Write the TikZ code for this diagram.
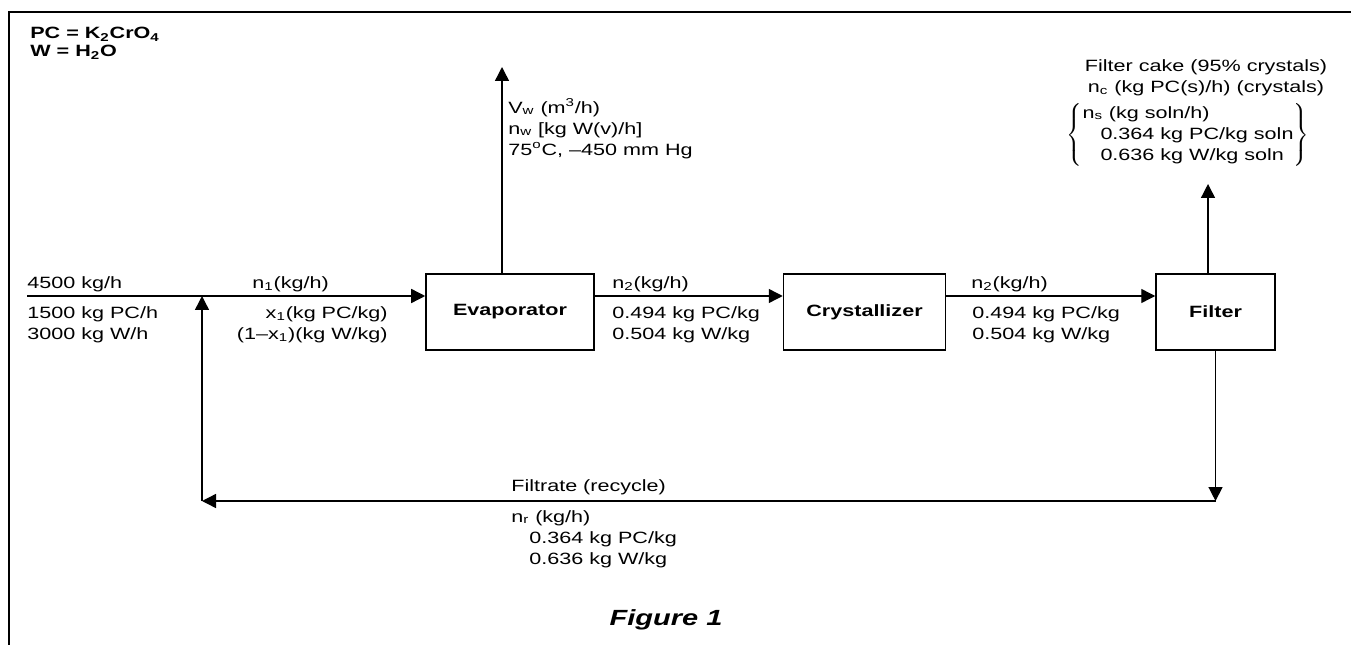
\documentclass[tikz,border=0pt]{standalone}
\usepackage{fontspec}
\setmainfont[FakeStretch=1.32]{Liberation Sans}
\usetikzlibrary{positioning,arrows.meta}

\begin{document}
\begin{tikzpicture}[
    x=0.02cm, y=-0.02cm,
    font=\fontsize{9.3}{12}\selectfont,
    unit/.style={rectangle, draw, line width=0.9pt, minimum height=1.52cm, font=\fontsize{9.3}{12}\selectfont\bfseries},
    flow/.style={-{Triangle[length=0.28cm, width=0.28cm]}, line width=0.8pt},
    lbl/.style={inner sep=0pt, align=left}
]
\useasboundingbox (0,0) rectangle (1351,645);

% Frame
\draw[line width=1.1pt] (1351,12) -| (9,645);

% Key
\node[lbl, anchor=north west, font=\fontsize{9.3}{10.3}\selectfont\bfseries] (key) at (30,27) {PC = K\textsubscript{2}CrO\textsubscript{4}\\W = H\textsubscript{2}O};

% Units
\node[unit, minimum width=3.36cm] (evap) at (510,312) {Evaporator};
\node[unit, minimum width=3.24cm, right=3.76cm of evap] (cryst) {Crystallizer};
\node[unit, minimum width=2.38cm, right=4.18cm of cryst] (filter) {Filter};

% Stream points
\coordinate (feed) at (27,296);
\coordinate (mix) at (202,296);
\coordinate (vap) at (502,67);
\coordinate (cake) at (1208,184);
\coordinate (recy) at (202,501);

% Streams
\draw[flow] (feed) -- (evap.west |- feed);
\draw[flow] (evap.east |- feed) -- (cryst.west |- feed);
\draw[flow] (cryst.east |- feed) -- (filter.west |- feed);
\draw[flow] (evap.north -| vap) -- (vap);
\draw[flow] (filter.north -| cake) -- (cake);
\draw[flow] (filter.south) -- (filter.south |- recy);
\draw[flow] (filter.south |- recy) -- (recy);
\draw[flow] (recy) -- (mix);

% Stream labels
\node[lbl, anchor=base west] (feedtop) at (27,288) {4500 kg/h};
\node[lbl, anchor=north west] (feedbot) at (27,306) {1500 kg PC/h\\3000 kg W/h};
\node[lbl, anchor=base west] (s1top) at (252,288) {n\textsubscript{1}(kg/h)};
\node[lbl, anchor=north east, align=right] (s1bot) at (388,306) {x\textsubscript{1}(kg PC/kg)\\(1--x\textsubscript{1})(kg W/kg)};
\node[lbl, anchor=base west] (s2top) at (612,288) {n\textsubscript{2}(kg/h)};
\node[lbl, anchor=north west] (s2bot) at (612,306) {0.494 kg PC/kg\\0.504 kg W/kg};
\node[lbl, anchor=base west] (s3top) at (971,288) {n\textsubscript{2}(kg/h)};
\node[lbl, anchor=north west] (s3bot) at (972,306) {0.494 kg PC/kg\\0.504 kg W/kg};
\node[lbl, anchor=north west] (vaplbl) at (508,98) {V\textsubscript{w} (m\textsuperscript{3}/h)\\n\textsubscript{w} [kg W(v)/h]\\75\textsuperscript{o}C, --450 mm Hg};
\node[lbl, anchor=north, align=center] (cakehead) at (1206,59) {Filter cake (95\% crystals)\\n\textsubscript{c} (kg PC(s)/h) (crystals)};
\node[lbl, below=4pt of cakehead, xshift=-0.36cm] (cakebody) {$\left\{\begin{tabular}{@{}l@{}}n\textsubscript{s} (kg soln/h)\\\hspace*{0.36cm}0.364 kg PC/kg soln\\\hspace*{0.36cm}0.636 kg W/kg soln\end{tabular}\right\}$};
\node[lbl, anchor=base west] (rectop) at (511,491) {Filtrate (recycle)};
\node[lbl, anchor=north west] (recbot) at (511,510) {n\textsubscript{r} (kg/h)\\\hspace*{0.36cm}0.364 kg PC/kg\\\hspace*{0.36cm}0.636 kg W/kg};
\node (figlbl) at (666,620) {\fontsize{12.5}{14}\selectfont\bfseries\itshape Figure 1};

\end{tikzpicture}
\end{document}
